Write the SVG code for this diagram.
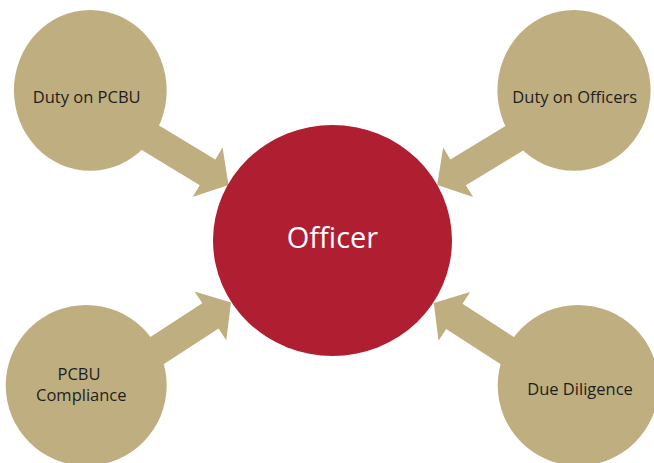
<svg xmlns="http://www.w3.org/2000/svg" width="654" height="463" viewBox="0 0 654 463">
  <style>
    .tan { fill: #BEAE80; }
    .core { fill: #B01E31; }
    .lbl { font-family: "Open Sans", "Noto Sans", "DejaVu Sans", sans-serif; font-size: 16.5px; fill: #1E1E1E; text-anchor: middle; }
    .main { font-family: "Open Sans", "Noto Sans", "DejaVu Sans", sans-serif; font-size: 29px; fill: #FFFFFF; text-anchor: middle; }
  </style>
  <defs>
    <!-- block arrow pointing along +x with its tip at the origin -->
    <polygon id="block-arrow" points="0,0 -24.5,-29 -24.5,-15 -125,-15 -125,15 -24.5,15 -24.5,29"/>
  </defs>
  <rect width="654" height="463" fill="#FFFFFF"/>

  <g id="connectors" class="tan">
    <use href="#block-arrow" transform="translate(228.5,185) rotate(31.2)"/>
    <use href="#block-arrow" transform="translate(437.2,185) rotate(148.8)"/>
    <use href="#block-arrow" transform="translate(231,302.5) rotate(-33)"/>
    <use href="#block-arrow" transform="translate(433.8,303) rotate(-147)"/>
  </g>

  <g id="officer">
    <ellipse class="core" cx="332.5" cy="240.5" rx="119.5" ry="115.5"/>
    <text class="main" x="332.5" y="248">Officer</text>
  </g>

  <g id="duty-on-pcbu">
    <ellipse class="tan" cx="90.3" cy="90.4" rx="76.4" ry="80.4"/>
    <text class="lbl" x="86.7" y="102.7">Duty on PCBU</text>
  </g>

  <g id="duty-on-officers">
    <ellipse class="tan" cx="574" cy="90.4" rx="76.6" ry="80.4"/>
    <text class="lbl" x="574.7" y="102.7">Duty on Officers</text>
  </g>

  <g id="pcbu-compliance">
    <ellipse class="tan" cx="86.2" cy="385.4" rx="80.5" ry="80.4"/>
    <text class="lbl" x="79" y="379.5">PCBU</text>
    <text class="lbl" x="81.3" y="401">Compliance</text>
  </g>

  <g id="due-diligence">
    <ellipse class="tan" cx="578.2" cy="385.4" rx="80.5" ry="80.4"/>
    <text class="lbl" x="580" y="395">Due Diligence</text>
  </g>
</svg>
